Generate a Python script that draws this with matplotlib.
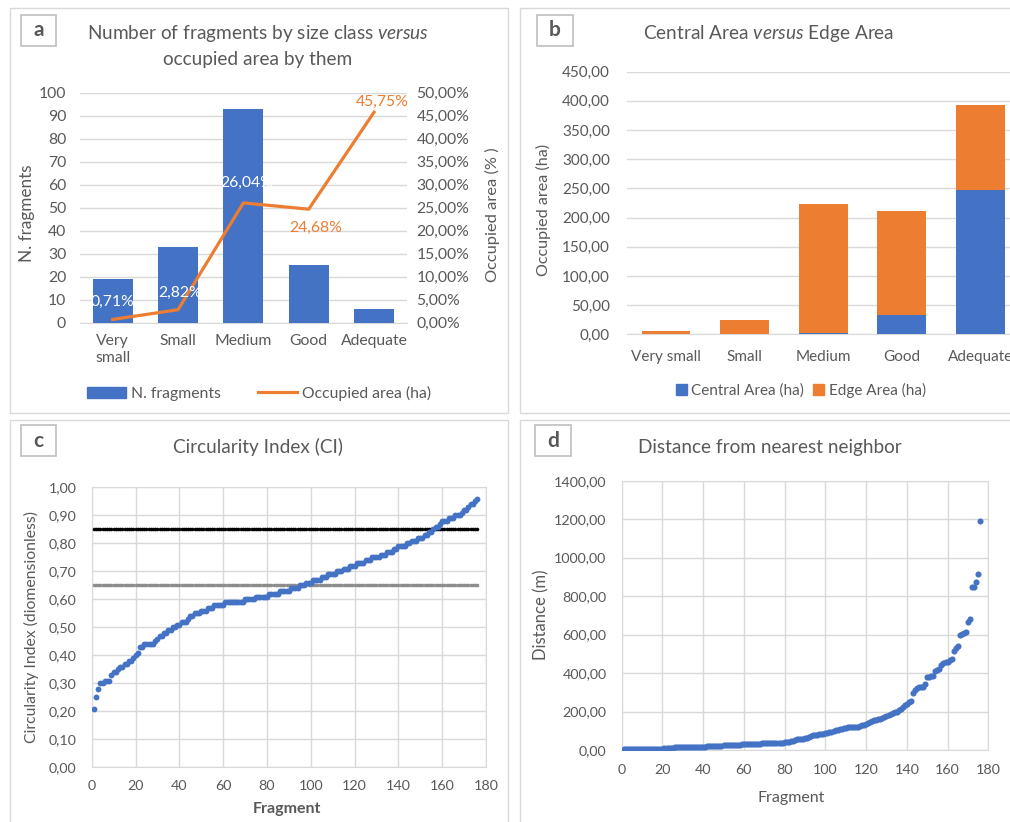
import matplotlib
matplotlib.use('Agg')
import matplotlib.pyplot as plt
from matplotlib.patches import Rectangle
from matplotlib.lines import Line2D
import numpy as np

# ---------------- data ----------------
size_classes = ['Very\nsmall', 'Small', 'Medium', 'Good', 'Adequate']
size_classes_b = ['Very small', 'Small', 'Medium', 'Good', 'Adequate']
n_fragments = [19, 33, 93, 25, 6]
occupied_pct = [0.71, 2.82, 26.04, 24.68, 45.75]
occupied_labels = ['0,71%', '2,82%', '26,04%', '24,68%', '45,75%']

central_area = [0.0, 0.0, 3.0, 33.0, 247.0]
edge_area = [6.1, 24.2, 220.4, 178.8, 145.5]

circularity = [
    0.21, 0.25, 0.28, 0.30, 0.30, 0.31, 0.31, 0.31, 0.33, 0.34,
    0.34, 0.35, 0.36, 0.36, 0.37, 0.37, 0.38, 0.38, 0.39, 0.40,
    0.41, 0.43, 0.43, 0.44, 0.44, 0.44, 0.44, 0.44, 0.45, 0.46,
    0.47, 0.47, 0.48, 0.48, 0.49, 0.49, 0.50, 0.50, 0.51, 0.51,
    0.52, 0.52, 0.52, 0.53, 0.54, 0.54, 0.55, 0.55, 0.55, 0.56,
    0.56, 0.56, 0.57, 0.57, 0.57, 0.58, 0.58, 0.58, 0.58, 0.58,
    0.59, 0.59, 0.59, 0.59, 0.59, 0.59, 0.59, 0.59, 0.59, 0.60,
    0.60, 0.60, 0.60, 0.60, 0.61, 0.61, 0.61, 0.61, 0.61, 0.61,
    0.62, 0.62, 0.62, 0.62, 0.62, 0.63, 0.63, 0.63, 0.63, 0.63,
    0.64, 0.64, 0.64, 0.64, 0.65, 0.65, 0.65, 0.66, 0.66, 0.66,
    0.67, 0.67, 0.67, 0.67, 0.68, 0.68, 0.68, 0.69, 0.69, 0.69,
    0.69, 0.70, 0.70, 0.70, 0.71, 0.71, 0.71, 0.72, 0.72, 0.72,
    0.73, 0.73, 0.73, 0.73, 0.74, 0.74, 0.74, 0.75, 0.75, 0.75,
    0.75, 0.76, 0.76, 0.76, 0.77, 0.77, 0.77, 0.78, 0.78, 0.79,
    0.79, 0.79, 0.79, 0.80, 0.80, 0.81, 0.81, 0.81, 0.82, 0.82,
    0.82, 0.83, 0.83, 0.84, 0.84, 0.85, 0.86, 0.86, 0.87, 0.88,
    0.88, 0.88, 0.89, 0.89, 0.89, 0.90, 0.90, 0.90, 0.91, 0.92,
    0.92, 0.93, 0.94, 0.94, 0.95, 0.96,
]
ci_upper_ref = 0.85
ci_lower_ref = 0.65

distance = [
    3, 4, 4, 4, 5, 5, 5, 5, 5, 5,
    5, 6, 6, 6, 6, 6, 7, 7, 7, 7,
    10, 11, 12, 12, 12, 13, 13, 13, 13, 14,
    14, 14, 14, 15, 15, 15, 15, 16, 16, 17,
    18, 19, 19, 20, 20, 20, 21, 21, 22, 24,
    25, 26, 26, 27, 27, 27, 28, 28, 29, 29,
    30, 31, 32, 32, 32, 33, 33, 33, 34, 34,
    34, 35, 35, 35, 35, 36, 36, 37, 38, 40,
    42, 44, 46, 49, 52, 55, 57, 58, 59, 60,
    62, 66, 72, 78, 80, 80, 81, 82, 84, 87,
    90, 93, 96, 99, 102, 105, 108, 110, 112, 115,
    117, 118, 119, 120, 121, 122, 125, 128, 132, 136,
    140, 145, 150, 155, 158, 160, 162, 166, 170, 176,
    182, 186, 190, 195, 200, 206, 212, 222, 232, 240,
    248, 255, 298, 310, 322, 325, 328, 330, 345, 380,
    382, 384, 386, 410, 415, 420, 440, 450, 455, 460,
    466, 472, 515, 530, 540, 598, 604, 610, 615, 664,
    680, 846, 849, 875, 915, 1190,
]

# ---------------- style ----------------
plt.rcParams['font.family'] = ['Lato', 'DejaVu Sans']
plt.rcParams['mathtext.fontset'] = 'custom'
plt.rcParams['mathtext.rm'] = 'Lato'
plt.rcParams['mathtext.it'] = 'Lato:italic'
plt.rcParams['mathtext.bf'] = 'Lato:bold'

BLUE = '#4472C4'
ORANGE = '#ED7D31'
TXT = '#595959'
GRID = '#d9d9d9'
TITLE_FS = 13.7

W, H = 1010, 822
fig = plt.figure(figsize=(W / 100, H / 100), dpi=100)


def ax_at(x0, y0, x1, y1):
    return fig.add_axes([x0 / W, 1 - y1 / H, (x1 - x0) / W, (y1 - y0) / H])


def ftext(x, y, s, **kw):
    kw.setdefault('color', TXT)
    kw.setdefault('ha', 'center')
    kw.setdefault('va', 'center')
    return fig.text(x / W, 1 - y / H, s, **kw)


def frect(x0, y0, x1, y1, ec=GRID, lw=1.0):
    fig.add_artist(Rectangle((x0 / W, 1 - y1 / H), (x1 - x0) / W, (y1 - y0) / H,
                             transform=fig.transFigure, fill=False, ec=ec, lw=lw))


def comma(fmt):
    return lambda v, p: (fmt % v).replace('.', ',')


# panel frames
frect(9.5, 8.5, 508, 413)
frect(520, 8.5, 1015, 413)
frect(9.5, 420, 508, 830)
frect(520, 420, 1015, 830)
for (x0, y0, x1, y1, s) in [(21, 15, 56, 46, 'a'), (537, 15, 573, 46, 'b'),
                            (21, 425, 56, 456, 'c'), (535, 425, 571, 456, 'd')]:
    frect(x0, y0, x1, y1, ec='#bfbfbf', lw=1.2)
    ftext((x0 + x1) / 2, (y0 + y1) / 2, s, fontsize=15, fontweight='bold')

# ---------------- panel a ----------------
FS_A = 11.3
axa = ax_at(80, 92.7, 406.7, 322.7)
xa = np.arange(len(size_classes))
axa.bar(xa, n_fragments, width=0.61, color=BLUE, zorder=3)
axa.set_xlim(-0.5, 4.5)
axa.set_ylim(0, 100)
axa.set_yticks(range(0, 101, 10))
axa.set_xticks(xa, size_classes)
axa.grid(axis='y', color=GRID, lw=1, zorder=0)
for s in axa.spines.values():
    s.set_visible(False)
axa.spines['bottom'].set_visible(True)
axa.spines['bottom'].set_color(GRID)
axa.tick_params(axis='y', length=0, colors=TXT, labelsize=FS_A, pad=10)
axa.tick_params(axis='x', length=0, colors=TXT, labelsize=FS_A, pad=8)
for t in axa.get_xticklabels():
    t.set_verticalalignment('top')
    t.set_linespacing(1.25)

axa2 = axa.twinx()
axa2.plot(xa, occupied_pct, color=ORANGE, lw=2.3, zorder=4)
axa2.set_ylim(0, 50)
axa2.set_yticks(range(0, 51, 5))
axa2.yaxis.set_major_formatter(comma('%.2f%%'))
for s in axa2.spines.values():
    s.set_visible(False)
axa2.tick_params(axis='y', length=0, colors=TXT, labelsize=FS_A, pad=7)
label_offsets = [(0, 18), (2, 17), (3, 20), (7, -19), (8, 10)]
label_colors = ['white', 'white', 'white', ORANGE, ORANGE]
for i in range(len(xa)):
    axa2.annotate(occupied_labels[i], (xa[i], occupied_pct[i]),
                  xytext=label_offsets[i], textcoords='offset pixels',
                  ha='center', va='center', color=label_colors[i],
                  fontsize=FS_A, zorder=6)

ftext(258, 33, r'Number of fragments by size class $\mathit{versus}$', fontsize=TITLE_FS)
ftext(258, 60, 'occupied area by them', fontsize=TITLE_FS)
ftext(27, 213, 'N. fragments', rotation=90, fontsize=12.3)
ftext(492, 215, 'Occupied area (% )', rotation=90, fontsize=11.8)
handles_a = [Rectangle((0, 0), 1, 1, color=BLUE), Line2D([], [], color=ORANGE, lw=2.3)]
fig.legend(handles_a, ['N. fragments', 'Occupied area (ha)'], loc='center',
           bbox_to_anchor=(259 / W, 1 - 393 / H), ncol=2, frameon=False,
           fontsize=11.3, labelcolor=TXT, handlelength=2.5, handleheight=0.7,
           columnspacing=2.4, handletextpad=0.3)

# ---------------- panel b ----------------
FS_B = 11
axb = ax_at(626.7, 71.7, 1019.7, 334.3)
xb = np.arange(len(size_classes_b))
axb.bar(xb, central_area, width=0.62, color=BLUE, zorder=3)
axb.bar(xb, edge_area, width=0.62, bottom=central_area, color=ORANGE, zorder=3)
axb.set_xlim(-0.5, 4.5)
axb.set_ylim(0, 450)
axb.set_yticks(range(0, 451, 50))
axb.yaxis.set_major_formatter(comma('%.2f'))
axb.set_xticks(xb, size_classes_b)
axb.grid(axis='y', color=GRID, lw=1, zorder=0)
for s in axb.spines.values():
    s.set_visible(False)
axb.spines['bottom'].set_visible(True)
axb.spines['bottom'].set_color(GRID)
axb.tick_params(axis='y', length=0, colors=TXT, labelsize=FS_B, pad=12)
axb.tick_params(axis='x', length=0, colors=TXT, labelsize=FS_B, pad=11)
ftext(769, 34, r'Central Area $\mathit{versus}$ Edge Area', fontsize=TITLE_FS)
ftext(543, 210, 'Occupied area (ha)', rotation=90, fontsize=11.6)
handles_b = [Rectangle((0, 0), 1, 1, color=BLUE), Rectangle((0, 0), 1, 1, color=ORANGE)]
fig.legend(handles_b, ['Central Area (ha)', 'Edge Area (ha)'], loc='center',
           bbox_to_anchor=(801 / W, 1 - 390 / H), ncol=2, frameon=False,
           fontsize=FS_B, labelcolor=TXT, handlelength=0.7, handleheight=0.7,
           columnspacing=0.6, handletextpad=0.3)

# ---------------- panel c ----------------
FS_C = 10.3
frag_c = np.arange(1, len(circularity) + 1)
axc = ax_at(91.7, 487.3, 486, 767.3)
axc.plot(frag_c, [ci_upper_ref] * len(frag_c), 'o', color='black', ms=2.6, mew=0, zorder=3)
axc.plot(frag_c, [ci_lower_ref] * len(frag_c), 'o', color='#8c8c8c', ms=2.6, mew=0, zorder=3)
axc.plot(frag_c, circularity, 'o', color=BLUE, ms=4.2, mew=0, zorder=4)
axc.set_xlim(0, 180)
axc.set_ylim(0, 1)
axc.set_xticks(range(0, 181, 20))
axc.set_yticks(np.arange(0, 1.001, 0.1))
axc.yaxis.set_major_formatter(comma('%.2f'))
axc.grid(True, color=GRID, lw=1, zorder=0)
for s in axc.spines.values():
    s.set_color(GRID)
axc.tick_params(length=0, colors=TXT, labelsize=FS_C)
axc.tick_params(axis='y', pad=11)
axc.tick_params(axis='x', pad=9)
ftext(258, 447, 'Circularity Index (CI)', fontsize=TITLE_FS)
ftext(31, 627, 'Circularity Index (diomensionless)', rotation=90, fontsize=11.3)
ftext(287, 809, 'Fragment', fontsize=11.5, fontweight='bold')

# ---------------- panel d ----------------
FS_D = 10.3
frag_d = np.arange(1, len(distance) + 1)
axd = ax_at(621.7, 480.7, 988.3, 750)
axd.plot(frag_d, distance, 'o', color=BLUE, ms=4.4, mew=0, zorder=4)
axd.set_xlim(0, 180)
axd.set_ylim(0, 1400)
axd.set_xticks(range(0, 181, 20))
axd.set_yticks(range(0, 1401, 200))
axd.yaxis.set_major_formatter(comma('%.2f'))
axd.grid(True, color=GRID, lw=1, zorder=0)
for s in axd.spines.values():
    s.set_color(GRID)
axd.tick_params(length=0, colors=TXT, labelsize=FS_D)
axd.tick_params(axis='y', pad=11)
axd.tick_params(axis='x', pad=10)
ftext(770, 447, 'Distance from nearest neighbor', fontsize=TITLE_FS)
ftext(541, 615, 'Distance (m)', rotation=90, fontsize=12)
ftext(791, 798, 'Fragment', fontsize=11.5)

fig.savefig('out.png', dpi=100, facecolor='white')
